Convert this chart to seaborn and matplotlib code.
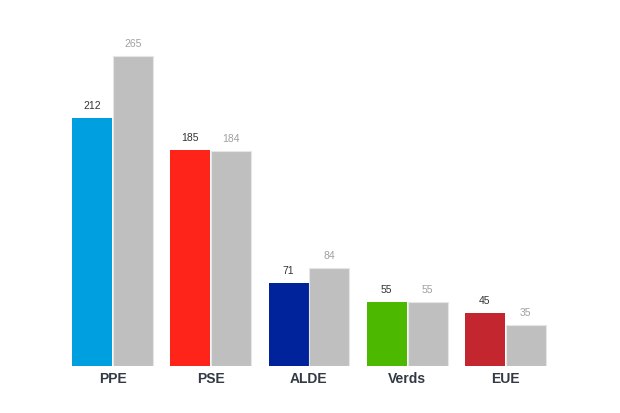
import pandas as pd
import matplotlib.pyplot as plt
import seaborn as sns

# --- data ---
parties = ['PPE', 'PSE', 'ALDE', 'Verds', 'EUE']
seats_new = [212, 185, 71, 55, 45]
seats_old = [265, 184, 84, 55, 35]
party_colors = ['#00a0e0', '#ff2419', '#00229a', '#4cb800', '#c3262e']
gray = '#bfbfbf'

df = pd.DataFrame({
    'party': parties * 2,
    'series': ['new'] * len(parties) + ['old'] * len(parties),
    'seats': seats_new + seats_old,
})

sns.set_style('white')
plt.rcParams['font.family'] = ['Liberation Sans', 'DejaVu Sans']
fig = plt.figure(figsize=(6.2, 4.13), dpi=100)
ax = fig.add_axes([0.1023, 0.1138, 0.792, 0.8497])

sns.barplot(data=df, x='party', y='seats', hue='series', order=parties,
            hue_order=['new', 'old'], palette=[gray, gray], width=0.83,
            gap=0.02, legend=False, ax=ax, saturation=1)

# recolour the first series bar by bar, label every bar
for c_idx, cont in enumerate(ax.containers):
    for i, bar in enumerate(cont):
        if c_idx == 0:
            bar.set_facecolor(party_colors[i])
            bar.set_edgecolor('none')
            txt_col = '#333333'
        else:
            bar.set_edgecolor('#e6e6e6')
            bar.set_linewidth(0.8)
            txt_col = '#a0a0a0'
        ax.annotate(f'{int(bar.get_height())}',
                    (bar.get_x() + bar.get_width() / 2, bar.get_height()),
                    xytext=(0, 5), textcoords='offset points',
                    ha='center', va='bottom', fontsize=7.5, color=txt_col)

ax.set_xlim(-0.5, 4.5)
ax.set_ylim(0, 300)
ax.set_xlabel('')
ax.set_ylabel('')
ax.set_yticks([])
ax.tick_params(axis='x', length=0, pad=4)
for lab in ax.get_xticklabels():
    lab.set_fontweight('bold')
    lab.set_fontsize(10)
    lab.set_color('#333a44')
sns.despine(ax=ax, left=True, bottom=True)

fig.savefig('out.png', dpi=100)
